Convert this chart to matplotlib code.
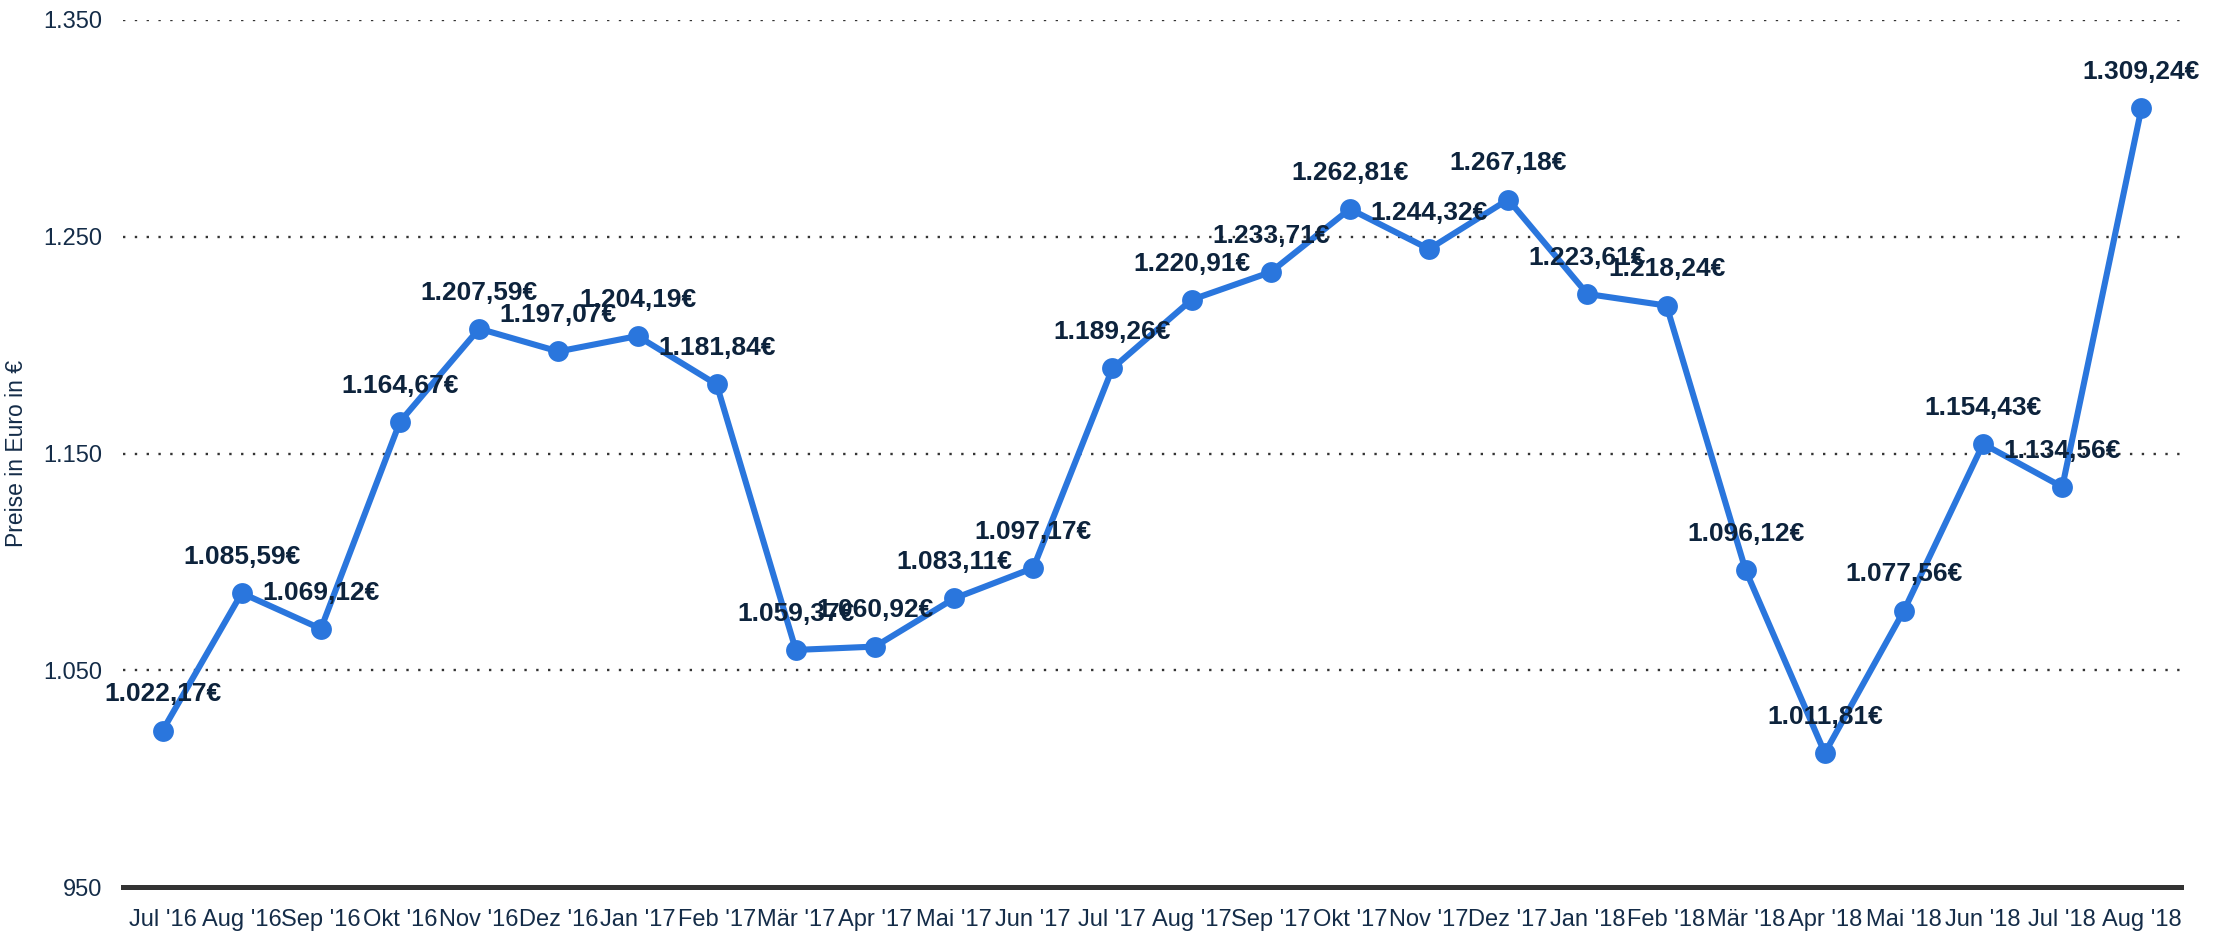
import matplotlib.pyplot as plt

plt.rcParams['font.family'] = ['Liberation Sans', 'DejaVu Sans']

# Monthly prices in euro
months = ["Jul '16", "Aug '16", "Sep '16", "Okt '16", "Nov '16", "Dez '16",
          "Jan '17", "Feb '17", "Mär '17", "Apr '17", "Mai '17", "Jun '17",
          "Jul '17", "Aug '17", "Sep '17", "Okt '17", "Nov '17", "Dez '17",
          "Jan '18", "Feb '18", "Mär '18", "Apr '18", "Mai '18", "Jun '18",
          "Jul '18", "Aug '18"]
prices = [1022.17, 1085.59, 1069.12, 1164.67, 1207.59, 1197.07,
          1204.19, 1181.84, 1059.37, 1060.92, 1083.11, 1097.17,
          1189.26, 1220.91, 1233.71, 1262.81, 1244.32, 1267.18,
          1223.61, 1218.24, 1096.12, 1011.81, 1077.56, 1154.43,
          1134.56, 1309.24]
y_ticks = [950, 1050, 1150, 1250, 1350]

line_color = '#2a76dd'
text_color = '#142c48'
label_color = '#0d233c'


def de_format(v, decimals=0):
    s = f"{v:,.{decimals}f}"
    return s.replace(',', 'X').replace('.', ',').replace('X', '.')


fig = plt.figure(figsize=(22.35, 9.32), dpi=100)
ax = fig.add_axes([123 / 2235, 45 / 932, 2058 / 2235, 867 / 932])

x = list(range(len(months)))
ax.plot(x, prices, color=line_color, lw=4.4, marker='o', markersize=15,
        markeredgewidth=0, zorder=3, clip_on=False)

# value labels centred above each point
for i, v in enumerate(prices):
    ax.annotate(de_format(v, 2) + '€', (i, v), xytext=(0, 26),
                textcoords='offset points', ha='center', va='center',
                fontsize=19, fontweight='bold', color=label_color, zorder=5)

ax.set_xlim(-0.5, len(months) - 0.5)
ax.set_ylim(950, 1350)
ax.set_xticks(x)
ax.set_xticklabels(months)
ax.set_yticks(y_ticks)
ax.set_yticklabels([de_format(t) for t in y_ticks])
ax.tick_params(axis='both', length=0, labelsize=17, labelcolor=text_color)
ax.tick_params(axis='y', pad=15)
ax.tick_params(axis='x', pad=16)

ax.yaxis.grid(True, linestyle=(0, (1, 4)), linewidth=1.7, color='#333333',
              dash_capstyle='butt')
ax.set_axisbelow(True)

for side in ['top', 'right', 'left']:
    ax.spines[side].set_visible(False)
ax.spines['bottom'].set_color('#333333')
ax.spines['bottom'].set_linewidth(3.6)
ax.spines['bottom'].set_zorder(2.5)

ax.set_ylabel('Preise in Euro in €', fontsize=16.5, color=text_color)
ax.yaxis.set_label_coords(-0.0462, 0.5)

fig.savefig('out.png', dpi=100)
